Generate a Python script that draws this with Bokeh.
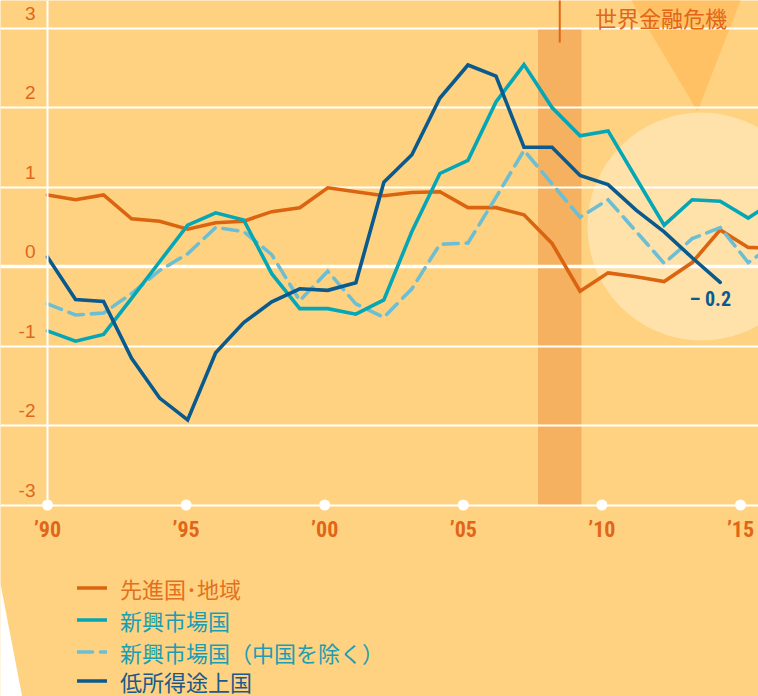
import math
import numpy as np
from bokeh.plotting import figure
from bokeh.models import (Range1d, LinearAxis, FixedTicker, Grid, Span, Legend,
                          LegendItem, Label, ColumnDataSource)
from bokeh.core.properties import value
from bokeh.embed import file_html
from bokeh.resources import INLINE

nan = float("nan")

# ---------------- data ----------------
years = list(range(1990, 2017))
advanced = [0.90, 0.84, 0.90, 0.60, 0.57, 0.47, 0.55, 0.57, 0.69, 0.74,
            0.99, 0.94, 0.89, 0.93, 0.94, 0.74, 0.74, 0.65, 0.29, -0.31,
            -0.08, -0.13, -0.19, 0.05, 0.46, 0.24, 0.23]
emerging = [-0.81, -0.94, -0.855, -0.40, 0.06, 0.52, 0.675, 0.585, -0.09, -0.53,
            -0.53, -0.60, -0.42, 0.44, 1.17, 1.335, 2.07, 2.54, 2.00, 1.645,
            1.705, 1.11, 0.52, 0.84, 0.82, 0.61, 0.84]
emerging_ex_china = [-0.47, -0.61, -0.585, -0.34, -0.05, 0.16, 0.49, 0.44, 0.15, -0.43,
                     -0.06, -0.47, -0.64, -0.28, 0.28, 0.295, 0.87, 1.46, 1.04, 0.62,
                     0.84, 0.44, 0.04, 0.35, 0.49, 0.05, 0.30]
low_income = [0.12, -0.415, -0.44, -1.155, -1.655, -1.93, -1.085, -0.705, -0.445, -0.28,
              -0.30, -0.205, 1.06, 1.405, 2.12, 2.535, 2.395, 1.50, 1.50, 1.145,
              1.03, 0.71, 0.435, 0.11, -0.2, nan, nan]

series_labels = ["先進国･地域", "新興市場国", "新興市場国（中国を除く）", "低所得途上国"]
crisis_label = "世界金融危機"
crisis_years = [2007.5, 2009.05]

x_tick_years = [1990, 1995, 2000, 2005, 2010, 2015]
x_tick_labels = ["’90", "’95", "’00", "’05", "’10", "’15"]
y_ticks = [3, 2, 1, 0, -1, -2, -3]
y_tick_labels = ["3", "2", "1", "0", "-1", "-2", "-3"]

# ---------------- styles ----------------
BG = "#FFD281"
BAND = "#F5B160"
TRI = "#FFC163"
CIRC = "#FFE1AA"
ORANGE_TXT = "#E0661A"
C_ADV = "#DA640F"
C_EM = "#05A6B6"
C_EMX = "#6EBED3"
C_LOW = "#0B5A8D"

FIG_W, FIG_H = 758, 696
PPY = 28.03      # px per year (data lines)
PPY_T = 27.72    # px per year (printed tick marks)
PPU = 79.5       # px per unit
X1990 = 47
Y0 = 266

x_range = Range1d(1990 - X1990 / PPY, 1990 + (FIG_W - X1990) / PPY)
tick_range = Range1d(1990 - X1990 / PPY_T, 1990 + (FIG_W - X1990) / PPY_T)
y_range = Range1d(-(FIG_H - Y0) / PPU, Y0 / PPU)


def px_x(px):
    return 1990 + (px - X1990) / PPY


def px_y(py):
    return (Y0 - py) / PPU


p = figure(width=FIG_W, height=FIG_H, x_range=x_range, y_range=y_range,
           x_axis_type=None, y_axis_type=None, toolbar_location=None,
           output_backend="svg", min_border=0, outline_line_color=None,
           background_fill_color=BG, border_fill_color=BG)
p.extra_x_ranges = {"ticks": tick_range}

# background decorations
p.quad(left=[crisis_years[0]], right=[crisis_years[1]], bottom=[-3], top=[3],
       fill_color=BAND, line_color=None, level="image")
p.scatter(x=[px_x(701)], y=[px_y(226)], size=228, marker="circle",
          fill_color=CIRC, line_color=None, level="image")
p.patch(x=[px_x(628), px_x(742), px_x(697)], y=[px_y(-5), px_y(-5), px_y(111)],
        fill_color=TRI, line_color=None, level="image")
p.patch(x=[px_x(-2), px_x(22.4), px_x(-2)], y=[px_y(573), px_y(700), px_y(700)],
        fill_color="white", line_color=None, level="image")

# grid
grid = Grid(dimension=1, ticker=FixedTicker(ticks=[t for t in y_ticks if t not in (0, -3)]),
            grid_line_color="white", grid_line_width=2)
p.add_layout(grid, "center")
p.add_layout(Span(location=0, dimension="width", line_color="white",
                  line_width=3.5, level="underlay"))

# crisis marker line + title
mid = sum(crisis_years) / 2
p.segment(x0=[mid], y0=[px_y(42)], x1=[mid], y1=[px_y(-5)],
          line_color=ORANGE_TXT, line_width=2)
p.add_layout(Label(x=px_x(660.5), y=px_y(16.5), text=crisis_label,
                   text_font="Noto Sans CJK JP", text_font_size="22px",
                   text_color=ORANGE_TXT, text_align="center", text_baseline="middle"))

# axes
xaxis = LinearAxis(x_range_name="ticks", fixed_location=-3,
                   ticker=FixedTicker(ticks=x_tick_years),
                   major_label_overrides=dict(zip(x_tick_years, x_tick_labels)),
                   axis_line_color="white", axis_line_width=2,
                   major_tick_line_color=None, minor_tick_line_color=None,
                   major_label_standoff=6, major_label_text_color=ORANGE_TXT,
                   major_label_text_font="Roboto Condensed, Roboto",
                   major_label_text_font_size="22px",
                   major_label_text_font_style="bold")
p.add_layout(xaxis, "below")
yaxis = LinearAxis(fixed_location=1990, bounds=(-3, 3.4), ticker=FixedTicker(ticks=[]),
                   axis_line_color="white", axis_line_width=2,
                   major_tick_line_color=None, minor_tick_line_color=None)
p.add_layout(yaxis, "left")

p.scatter(x=x_tick_years, y=[-3] * len(x_tick_years), x_range_name="ticks",
          size=11, fill_color="white", line_color=None)
p.text(x=[1990] * len(y_ticks), y=y_ticks, text=y_tick_labels,
       x_offset=-12, y_offset=-15, text_align="right", text_baseline="middle",
       text_font=value("Liberation Sans"), text_font_size="19px", text_color=ORANGE_TXT)

# data lines
src = ColumnDataSource(dict(year=years, adv=advanced, em=emerging,
                            emx=emerging_ex_china, low=low_income))
common = dict(line_width=3.6, line_join="miter", line_cap="round")
r_adv = p.line("year", "adv", source=src, line_color=C_ADV, **common)
r_emx = p.line("year", "emx", source=src, line_color=C_EMX, line_dash="15 8", **common)
r_em = p.line("year", "em", source=src, line_color=C_EM, **common)
r_low = p.line("year", "low", source=src, line_color=C_LOW, **common)

last = max(i for i, v in enumerate(low_income) if not math.isnan(v))
p.text(x=[years[last]], y=[low_income[last]],
       text=[f"– {abs(low_income[last]):.1f}"], x_offset=-10, y_offset=17,
       text_align="center", text_baseline="middle",
       text_font=value("Roboto Condensed, Roboto"), text_font_style="bold",
       text_font_size="20px", text_color=C_LOW)

# legends (one per row so each label keeps its own colour)
ITEM_H = 31
rows = [(series_labels[0], r_adv, "#E3701D", 588),
        (series_labels[1], r_em, "#1C9DB2", 620),
        (series_labels[2], r_emx, "#1C9DB2", 652),
        (series_labels[3], r_low, "#1B5A8A", 681)]
for label, rend, col, cy in rows:
    leg = Legend(items=[LegendItem(label=label, renderers=[rend])],
                 location=(77, FIG_H - (cy + ITEM_H / 2)),
                 padding=0, margin=0, spacing=0, border_line_alpha=0,
                 background_fill_alpha=0, glyph_width=30, glyph_height=ITEM_H,
                 label_height=ITEM_H, label_standoff=13,
                 label_text_font="Noto Sans CJK JP", label_text_font_size="22px",
                 label_text_color=col, label_text_baseline="middle")
    p.add_layout(leg)

html = file_html(p, INLINE)
open("out.html", "w").write(html)
